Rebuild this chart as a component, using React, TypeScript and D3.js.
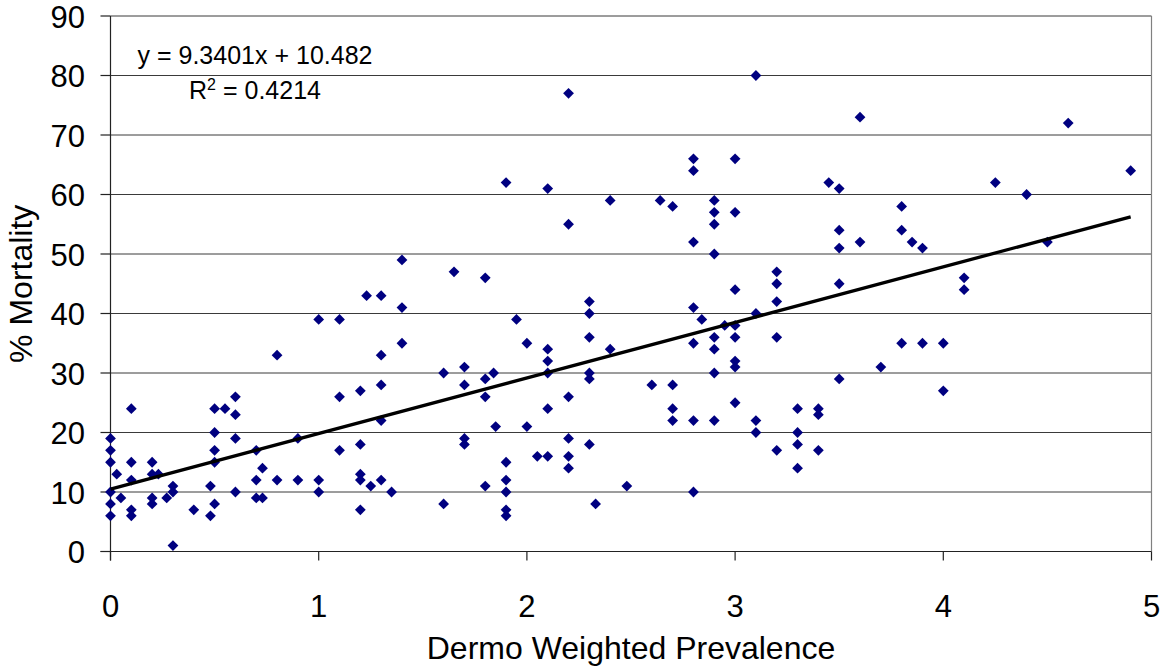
import React from "react";
import * as d3 from "d3";

// Dermo weighted prevalence (x) and % mortality (y) for each sampled site
const prevalence: number[] = [
  0, 0, 0, 0, 0, 0,
  0.03, 0.05,
  0.1, 0.1, 0.1, 0.1, 0.1,
  0.2, 0.2, 0.2, 0.2, 0.23, 0.27,
  0.3, 0.3, 0.3, 0.4, 0.48, 0.48,
  0.5, 0.5, 0.5, 0.5, 0.5, 0.55,
  0.6, 0.6, 0.6, 0.6,
  0.7, 0.7, 0.7, 0.73, 0.73,
  0.8, 0.8, 0.9, 0.9,
  1.0, 1.0, 1.0,
  1.1, 1.1, 1.1,
  1.2, 1.2, 1.2, 1.2, 1.2, 1.23, 1.25,
  1.3, 1.3, 1.3, 1.3, 1.3, 1.35,
  1.4, 1.4, 1.4,
  1.6, 1.6, 1.65,
  1.7, 1.7, 1.7, 1.7,
  1.8, 1.8, 1.8, 1.8, 1.84, 1.85,
  1.9, 1.9, 1.9, 1.9, 1.9, 1.9, 1.95,
  2.0, 2.0, 2.05,
  2.1, 2.1, 2.1, 2.1, 2.1, 2.1,
  2.2, 2.2, 2.2, 2.2, 2.2, 2.2,
  2.3, 2.3, 2.3, 2.3, 2.3, 2.3, 2.33,
  2.4, 2.4, 2.48,
  2.6, 2.64,
  2.7, 2.7, 2.7, 2.7,
  2.8, 2.8, 2.8, 2.8, 2.8, 2.8, 2.8, 2.84,
  2.9, 2.9, 2.9, 2.9, 2.9, 2.9, 2.9, 2.9, 2.95,
  3.0, 3.0, 3.0, 3.0, 3.0, 3.0, 3.0, 3.0,
  3.1, 3.1, 3.1, 3.1,
  3.2, 3.2, 3.2, 3.2, 3.2,
  3.3, 3.3, 3.3, 3.3,
  3.4, 3.4, 3.4, 3.45,
  3.5, 3.5, 3.5, 3.5, 3.5,
  3.6, 3.6, 3.7,
  3.8, 3.8, 3.8, 3.85, 3.9, 3.9,
  4.0, 4.0, 4.1, 4.1,
  4.25, 4.4, 4.5, 4.6, 4.9,
];

const mortality: number[] = [
  19, 17, 15, 10, 8, 6,
  13, 9,
  24, 15, 12, 7, 6,
  15, 13, 9, 8, 13, 9,
  11, 10, 1, 7, 11, 6,
  24, 20, 17, 15, 8, 24,
  26, 23, 19, 10,
  17, 12, 9, 14, 9,
  33, 12, 19, 12,
  39, 12, 10,
  39, 26, 17,
  27, 18, 13, 12, 7, 43, 11,
  43, 33, 28, 22, 12, 10,
  49, 41, 35,
  30, 8, 47,
  31, 28, 19, 18,
  46, 29, 26, 11, 30, 21,
  62, 15, 12, 10, 7, 6, 39,
  35, 21, 16,
  61, 34, 32, 30, 24, 16,
  77, 55, 26, 19, 16, 14,
  42, 40, 36, 30, 29, 18, 8,
  59, 34, 11,
  28, 59,
  58, 28, 24, 22,
  66, 64, 52, 41, 35, 22, 10, 39,
  59, 57, 55, 50, 36, 34, 30, 22, 38,
  66, 57, 44, 38, 36, 32, 31, 25,
  80, 40, 22, 20,
  47, 45, 42, 36, 17,
  24, 20, 18, 14,
  24, 23, 17, 62,
  61, 54, 51, 45, 29,
  73, 52, 31,
  58, 54, 35, 52, 51, 35,
  35, 27, 46, 44,
  62, 60, 52, 72, 64,
];

// Linear trend fitted to the data
const slope = 9.3401;
const intercept = 10.482;
const rSquared = "0.4214";

const xTicks: number[] = [0, 1, 2, 3, 4, 5];
const yTicks: number[] = [0, 10, 20, 30, 40, 50, 60, 70, 80, 90];

const xTitle = "Dermo Weighted Prevalence";
const yTitle = "% Mortality";

const FONT = "'Liberation Sans', Arial, Helvetica, sans-serif";

export default function App() {
  const width = 1160;
  const height = 669;
  const left = 110.5;
  const right = 1151.5;
  const top = 16;
  const bottom = 551.5;

  const x = d3.scaleLinear().domain([0, 5]).range([left, right]);
  const y = d3.scaleLinear().domain([0, 90]).range([bottom, top]);

  const points = prevalence.map((p, i) => ({ p, m: mortality[i] }));
  const xMin = d3.min(prevalence) ?? 0;
  const xMax = d3.max(prevalence) ?? 5;

  const trend = d3
    .line<number>()
    .x((d) => x(d))
    .y((d) => y(slope * d + intercept))([xMin, xMax]);

  const marker = d3.symbol().type(d3.symbolSquare).size(58)();

  return (
    <svg
      width={width}
      height={height}
      style={{ position: "absolute", left: 0, top: 0, background: "#fff" }}
      fontFamily={FONT}
    >
      {/* horizontal gridlines */}
      {yTicks
        .filter((t) => t > 0)
        .map((t) => (
          <line
            key={"g" + t}
            x1={left}
            x2={right}
            y1={y(t)}
            y2={y(t)}
            stroke="#3a3a3a"
            strokeWidth={1}
          />
        ))}
      {/* plot area right border */}
      <line x1={right} x2={right} y1={top} y2={bottom} stroke="#808080" strokeWidth={1.2} />

      {/* y axis */}
      <line x1={left} x2={left} y1={top} y2={bottom + 9} stroke="#222" strokeWidth={1.2} />
      {yTicks.map((t) => (
        <g key={"yt" + t}>
          <line x1={left - 10} x2={left} y1={y(t)} y2={y(t)} stroke="#222" strokeWidth={1.2} />
          <text x={85} y={y(t) + 11.5} textAnchor="end" fontSize={31} fill="#000">
            {t}
          </text>
        </g>
      ))}

      {/* x axis */}
      <line x1={left - 10} x2={right} y1={bottom} y2={bottom} stroke="#222" strokeWidth={1.2} />
      {xTicks.map((t) => (
        <g key={"xt" + t}>
          <line x1={x(t)} x2={x(t)} y1={bottom} y2={bottom + 9} stroke="#222" strokeWidth={1.2} />
          <text x={x(t)} y={617} textAnchor="middle" fontSize={31} fill="#000">
            {t}
          </text>
        </g>
      ))}

      {/* data points */}
      {points.map((d, i) => (
        <path
          key={"p" + i}
          d={marker || ""}
          transform={`translate(${x(d.p)},${y(d.m)}) rotate(45)`}
          fill="#000080"
        />
      ))}

      {/* trend line */}
      <path d={trend || ""} fill="none" stroke="#000" strokeWidth={3.3} />

      {/* regression annotation */}
      <text x={255} y={64} textAnchor="middle" fontSize={25} fill="#000">
        {`y = ${slope}x + ${intercept}`}
      </text>
      <text x={255} y={99} textAnchor="middle" fontSize={25} fill="#000">
        R
        <tspan fontSize={16} dy={-9}>
          2
        </tspan>
        <tspan dy={9}>{` = ${rSquared}`}</tspan>
      </text>

      {/* axis titles */}
      <text x={(left + right) / 2} y={659} textAnchor="middle" fontSize={32} fill="#000">
        {xTitle}
      </text>
      <text
        transform={`translate(32,${(top + bottom) / 2}) rotate(-90)`}
        textAnchor="middle"
        fontSize={32}
        fill="#000"
      >
        {yTitle}
      </text>
    </svg>
  );
}
